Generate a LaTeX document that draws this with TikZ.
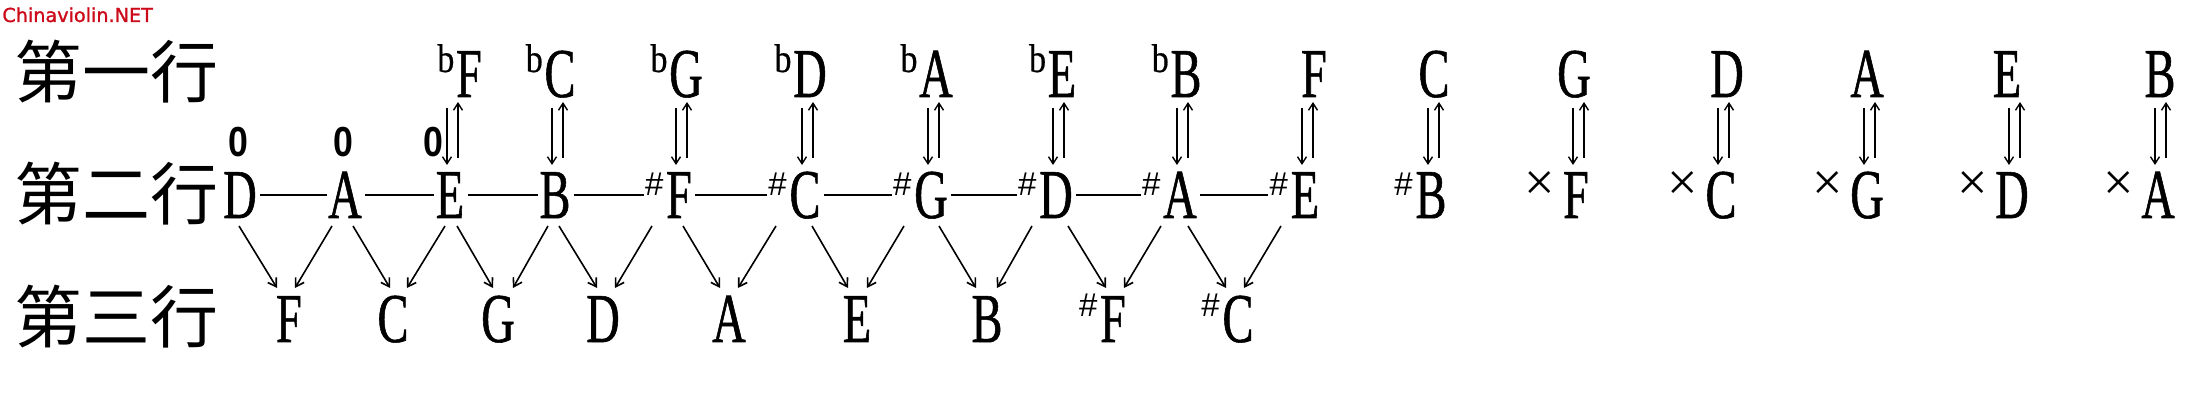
\documentclass[tikz,border=0pt]{standalone}
\usepackage{fontspec}
\usetikzlibrary{calc,arrows.meta}
\newfontfamily\latf[FakeStretch=0.66,FakeBold=0.8]{Liberation Serif}
\newfontfamily\latb[FakeStretch=0.85,FakeBold=0.5]{Liberation Serif}
\newfontfamily\latx{Liberation Serif}
\newfontfamily\cjkf{Noto Sans CJK SC}
\newfontfamily\sansf{Liberation Sans}
\newfontfamily\zerof[FakeStretch=0.85]{Liberation Sans Bold}
\newfontfamily\wmf[FakeBold=1.2]{DejaVu Sans}
\definecolor{wmred}{RGB}{205,10,25}
\tikzset{
  note/.style={inner sep=0pt, anchor=base, font=\latf\fontsize{35pt}{35pt}\selectfont},
  flatsign/.style={inner sep=0pt, anchor=base east, font=\latb\fontsize{20pt}{20pt}\selectfont},
  sharpsign/.style={inner sep=0pt, anchor=base east, font=\sansf\fontsize{16.5pt}{16.5pt}\selectfont},
  dblsign/.style={inner sep=0pt, anchor=east, font=\latx\fontsize{27pt}{27pt}\selectfont},
  zero/.style={inner sep=0pt, anchor=base, font=\zerof\fontsize{21pt}{21pt}\selectfont},
  rowlabel/.style={inner sep=0pt, anchor=west, font=\cjkf\fontsize{34pt}{34pt}\selectfont},
  arr/.style={line width=0.8pt, -{Straight Barb[length=4pt,width=5pt]}},
  arrtwo/.style={line width=0.7pt, -{Straight Barb[length=3.5pt,width=4.5pt]}},
  link/.style={line width=0.9pt},
}
\begin{document}
\begin{tikzpicture}[x=0.5pt,y=-0.5pt]
\useasboundingbox[fill=white] (0,0) rectangle (2208,415);

% watermark
\node[anchor=north west, inner sep=0pt, text=wmred, font=\wmf\fontsize{9.6pt}{10pt}\selectfont] (wm) at (2,7) {Chinaviolin.NET};

% row labels
\node[rowlabel] (l1) at (14,72) {第一行};
\node[rowlabel] (l2) at (14,194) {第二行};
\node[rowlabel] (l3) at (14,317) {第三行};

% row 1
\foreach \x/\t [count=\k from 3] in {469/F,560/C,686/G,810/D,936/A,1062/E,1186/B,1314/F,1434/C,1574/G,1727/D,1867/A,2007/E,2160/B}
  \node[note] (r1-\k) at (\x,97) {\t};
\foreach \k in {3,...,9}
  \node[flatsign] (b\k) at ($(r1-\k.base west)+(-1,-25)$) {b};

% row 2
\foreach \x/\t [count=\k] in {240/D,345/A,450/E,555/B,679/F,805/C,931/G,1056/D,1180/A,1305/E,1431/B,1576/F,1721/C,1867/G,2012/D,2158/A}
  \node[note] (r2-\k) at (\x,218) {\t};
\foreach \k in {5,...,11}
  \node[sharpsign] (s\k) at ($(r2-\k.base west)+(-2,-22)$) {\#};
\foreach \k in {12,...,16}
  \node[dblsign] (x\k) at ($(r2-\k.base west)+(-7,-32)$) {×};

% open strings
\node[zero] (z1) at ($(r2-1.base)+(-2,-61)$) {0};
\node[zero] (z2) at ($(r2-2.base)+(-2,-61)$) {0};
\node[zero] (z3) at ($(r2-3.base)+(-17,-61)$) {0};

% row 3
\foreach \x/\t [count=\k] in {289/F,393/C,498/G,603/D,729/A,857/E,987/B,1113/F,1238/C}
  \node[note] (r3-\k) at (\x,342) {\t};
\foreach \k in {8,9}
  \node[sharpsign] (t\k) at ($(r3-\k.base west)+(-2,-25)$) {\#};

% horizontal links in row 2
\foreach \a/\b in {1/2,2/3,3/4}
  \draw[link] ($(r2-\a.base east)+(3,-23)$) -- ($(r2-\b.base west)+(-1,-23)$);
\foreach \a/\b in {4/5,5/6,6/7,7/8,8/9,9/10}
  \draw[link] ($(r2-\a.base east)+(3,-23)$) -- ($(s\b.base west |- r2-\a.base)+(-1,-23)$);

% double arrows between row 1 and row 2
\foreach \k in {3,...,16}{
  \draw[arrtwo] ($(r2-\k.base |- r1-\k.base)+(-3,11)$) -- ($(r2-\k.base)+(-3,-53)$);
  \draw[arrtwo] ($(r2-\k.base)+(8,-60)$) -- ($(r2-\k.base |- r1-\k.base)+(8,5)$);
}

% diagonal arrows from row 2 to row 3
\foreach \i/\j/\p/\q in {1/1/-1/-12, 2/1/-13/6, 2/2/8/-3, 3/2/-5/14, 3/3/7/-5, 4/3/-7/15, 4/4/4/-6, 5/4/-27/12, 5/5/4/-9, 6/5/-29/9, 6/6/7/-9, 7/6/-27/10, 7/7/8/-11, 8/7/-24/10, 8/8/12/-7, 9/8/-19/11, 9/9/8/-12, 10/9/-24/6}
  \draw[arr] ($(r2-\i.base)+(\p,8)$) -- ($(r3-\j.base)+(\q,-54)$);
\end{tikzpicture}
\end{document}
